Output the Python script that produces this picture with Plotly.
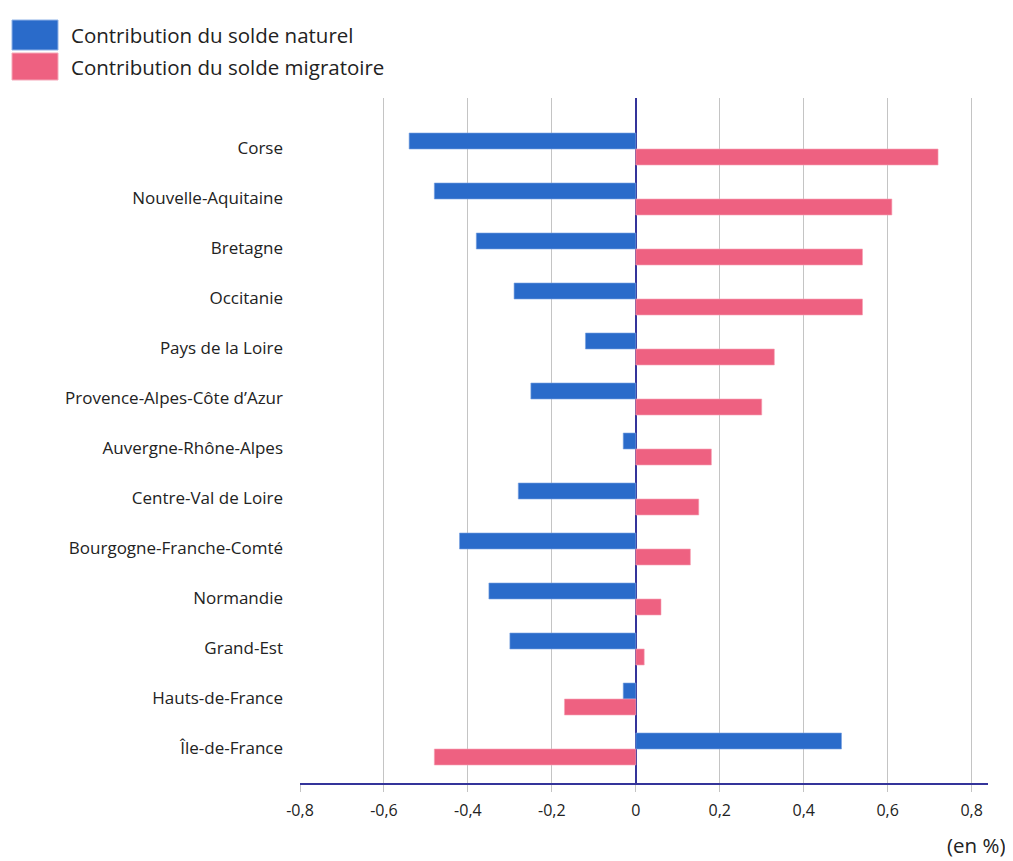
import plotly.graph_objects as go

regions = ["Corse", "Nouvelle-Aquitaine", "Bretagne", "Occitanie", "Pays de la Loire",
           "Provence-Alpes-Côte d’Azur", "Auvergne-Rhône-Alpes", "Centre-Val de Loire",
           "Bourgogne-Franche-Comté", "Normandie", "Grand-Est", "Hauts-de-France", "Île-de-France"]
solde_naturel = [-0.54, -0.48, -0.38, -0.29, -0.12, -0.25, -0.03, -0.28, -0.42, -0.35, -0.30, -0.03, 0.49]
solde_migratoire = [0.72, 0.61, 0.54, 0.54, 0.33, 0.30, 0.18, 0.15, 0.13, 0.06, 0.02, -0.17, -0.48]
series_names = ["Contribution du solde naturel", "Contribution du solde migratoire"]
tick_vals = [-0.8, -0.6, -0.4, -0.2, 0, 0.2, 0.4, 0.6, 0.8]
tick_text = ["-0,8", "-0,6", "-0,4", "-0,2", "0", "0,2", "0,4", "0,6", "0,8"]
unit_label = "(en %)"

BLUE = "#2a6bca"
PINK = "#ee6181"
FONT = "Open Sans, Noto Sans, sans-serif"
OFF = 8  # page body margin
W, H = 1013 - OFF, 861 - OFF
ML, MR, MT, MB = 300 - OFF, 25, 98 - OFF, 78

fig = go.Figure()
fig.add_trace(go.Bar(y=regions, x=solde_naturel, orientation="h", name=series_names[0],
                     marker=dict(color=BLUE, line=dict(color="#7aa3e0", width=0.6)),
                     width=0.32, offset=-0.02, showlegend=False))
fig.add_trace(go.Bar(y=regions, x=solde_migratoire, orientation="h", name=series_names[1],
                     marker=dict(color=PINK, line=dict(color="#f6a3b5", width=0.6)),
                     width=0.32, offset=-0.34, showlegend=False))

pw = W - ML - MR
ph = H - MT - MB
def px2x(p):
    return (p - OFF - ML) / pw
def py2y(p):
    return (H - MB - (p - OFF)) / ph

shapes = []
annotations = []
# legend
legend_rows = [(20, 50, BLUE, "#8fb2e6"), (53, 80, PINK, "#f5a8b9")]
for (top, bot, col, lc), name in zip(legend_rows, series_names):
    shapes.append(dict(type="rect", xref="paper", yref="paper", x0=px2x(12), x1=px2x(58),
                       y0=py2y(bot), y1=py2y(top), fillcolor=col, line=dict(color=lc, width=1)))
    annotations.append(dict(xref="paper", yref="paper", x=px2x(69), y=py2y((top + bot) / 2),
                            text=name, showarrow=False, xanchor="left", yanchor="middle",
                            font=dict(family=FONT, size=20.5, color="#222222")))
annotations.append(dict(xref="paper", yref="paper", x=px2x(1007), y=py2y(845), text=unit_label,
                        showarrow=False, xanchor="right", yanchor="middle",
                        font=dict(family=FONT, size=20.5, color="#222222")))

fig.update_layout(
    width=W, height=H,
    margin=dict(l=ML, r=MR, t=MT, b=MB, autoexpand=False),
    paper_bgcolor="white", plot_bgcolor="white",
    barmode="overlay",
    separators=", ",
    font=dict(family=FONT, size=14, color="#222222"),
    shapes=shapes, annotations=annotations,
    xaxis=dict(range=[-0.8, 0.839], tickvals=tick_vals, ticktext=tick_text,
               showgrid=True, gridcolor="#c4c4c4", gridwidth=1,
               zeroline=True, zerolinecolor="#34349a", zerolinewidth=2,
               showline=True, linecolor="#34349a", linewidth=1.5,
               ticks="outside", ticklen=7, tickcolor="#c4c4c4", tickwidth=1,
               ticklabelstandoff=5,
               tickfont=dict(family=FONT, size=16, color="#222222"), fixedrange=True),
    yaxis=dict(categoryorder="array", categoryarray=regions[::-1], range=[-0.7, 13],
               showgrid=False, zeroline=False, showline=False, ticks="",
               ticklabelstandoff=16,
               tickfont=dict(family=FONT, size=17, color="#222222"), fixedrange=True),
)

fig.write_html("out.html")
